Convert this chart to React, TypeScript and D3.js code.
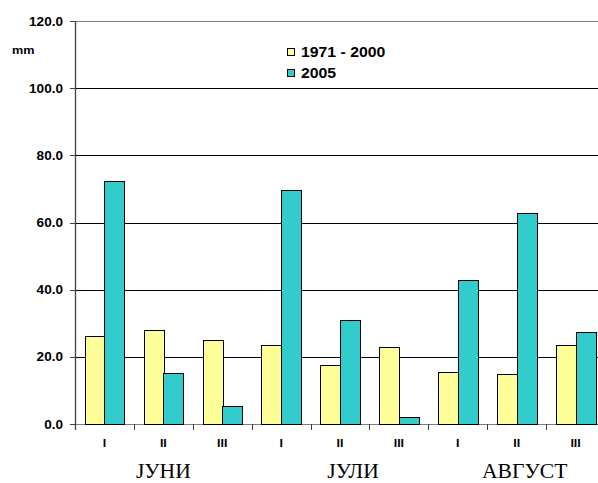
import React from "react";
import * as d3 from "d3";

const categories = ["J-I", "J-II", "J-III", "Jl-I", "Jl-II", "Jl-III", "A-I", "A-II", "A-III"];
const tickLabels = ["I", "II", "III", "I", "II", "III", "I", "II", "III"];
const normal19712000 = [26.3, 28.0, 25.1, 23.6, 17.7, 22.8, 15.4, 14.8, 23.4];
const year2005 = [72.4, 15.1, 5.3, 69.7, 31.0, 2.0, 42.9, 62.7, 27.3];
const months = ["ЈУНИ", "ЈУЛИ", "АВГУСТ"];
const yTicks = [0, 20, 40, 60, 80, 100, 120];
const seriesNames = ["1971 - 2000", "2005"];
const seriesColors = ["#FFFF99", "#33CCCC"];

const W = 598;
const H = 483;
const SX = 1.13;
const monthOffsets = [0, 13, 8];

const STxt = ({ x, y, anchor = "start", size, weight = "bold", family = "Arial, 'Liberation Sans', sans-serif", sx = SX, children }: any) => (
  <text
    transform={`translate(${x},${y}) scale(${sx},1)`}
    textAnchor={anchor}
    fontSize={size}
    fontWeight={weight}
    fontFamily={family}
    fill="#000"
  >
    {children}
  </text>
);

export default function App() {
  const x = d3.scaleBand<string>().domain(categories).range([75, 605]).padding(0);
  const bw = x.bandwidth();
  const xs = d3.scaleBand<string>().domain(seriesNames).range([0, bw]).paddingInner(0).paddingOuter(0.5);
  const y = d3.scaleLinear().domain([0, 120]).range([424, 21]);
  const series = [normal19712000, year2005];

  return (
    <svg width={W} height={H} style={{ position: "absolute", left: 0, top: 0, overflow: "hidden", background: "#fff" }}>
      <rect x={0} y={0} width={W} height={H} fill="#fff" />
      {/* gridlines */}
      {yTicks.map((t) => (
        <line
          key={"g" + t}
          x1={x.range()[0]}
          x2={x.range()[1]}
          y1={Math.round(y(t)) + 0.5}
          y2={Math.round(y(t)) + 0.5}
          stroke={t === 0 || t === 120 ? "#808080" : "#000"}
          strokeWidth={1}
        />
      ))}
      {/* bars */}
      {categories.map((c, i) =>
        series.map((s, j) => {
          const bx = (x(c) as number) + (xs(seriesNames[j]) as number);
          return (
            <rect
              key={c + j}
              x={Math.round(bx) + 0.5}
              y={Math.round(y(s[i])) + 0.5}
              width={Math.round(xs.bandwidth())}
              height={Math.round(y(0)) - Math.round(y(s[i]))}
              fill={seriesColors[j]}
              stroke="#000"
              strokeWidth={1}
            />
          );
        })
      )}
      {/* y axis */}
      <line x1={75.5} x2={75.5} y1={Math.round(y(120))} y2={Math.round(y(0)) + 6} stroke="#404040" strokeWidth={1.3} />
      {yTicks.map((t) => (
        <g key={"yt" + t}>
          <line x1={70} x2={75} y1={Math.round(y(t)) + 0.5} y2={Math.round(y(t)) + 0.5} stroke="#404040" />
          <STxt x={63} y={y(t) + 4.5} anchor="end" size={12}>
            {t.toFixed(1)}
          </STxt>
        </g>
      ))}
      {/* x ticks */}
      {categories.map((c) => (
        <line
          key={"xt" + c}
          x1={Math.round(x(c) as number) + 0.5}
          x2={Math.round(x(c) as number) + 0.5}
          y1={Math.round(y(0))}
          y2={Math.round(y(0)) + 6}
          stroke="#404040"
        />
      ))}
      {categories.map((c, i) => (
        <STxt key={"xl" + c} x={(x(c) as number) + bw / 2} y={447} anchor="middle" size={11}>
          {tickLabels[i]}
        </STxt>
      ))}
      {months.map((m, k) => {
        const cx = (x(categories[k * 3]) as number) + bw * 1.5 + monthOffsets[k];
        return (
          <text
            key={m}
            transform={`translate(${cx},478) scale(1.08,1)`}
            textAnchor="middle"
            fontSize={20}
            fontFamily="'Times New Roman', 'Liberation Serif', serif"
            fill="#000"
          >
            {m}
          </text>
        );
      })}
      {/* unit */}
      <STxt x={12} y={53.5} size={11} sx={1.15}>
        mm
      </STxt>
      {/* legend */}
      {seriesNames.map((s, j) => (
        <g key={"lg" + s}>
          <rect x={287.5} y={48.5 + j * 21} width={7} height={7} fill={seriesColors[j]} stroke="#000" strokeWidth={1} />
          <STxt x={301} y={57 + j * 21} size={14}>
            {s}
          </STxt>
        </g>
      ))}
    </svg>
  );
}
